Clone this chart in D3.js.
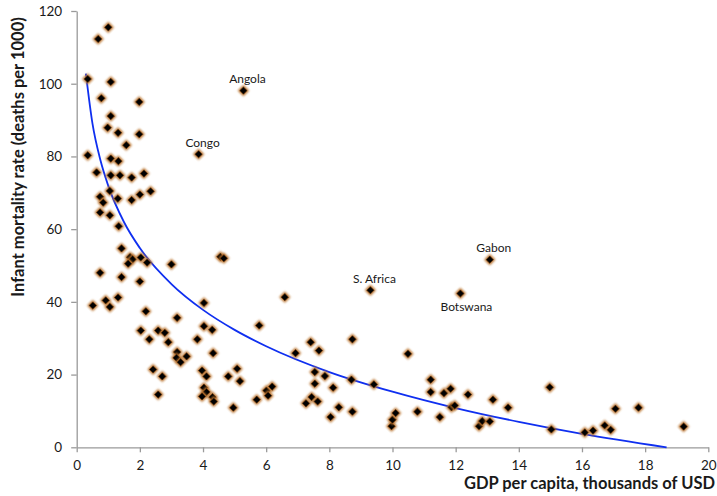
<!DOCTYPE html>
<html>
<head>
<meta charset="utf-8">
<script src="https://cdn.jsdelivr.net/npm/d3@7"></script>
<style>
  html, body { margin: 0; padding: 0; background: #fff; }
  svg { display: block; }
  text { font-family: Lato, "Open Sans", sans-serif; fill: #1a1a1a; }
</style>
</head>
<body>
<svg id="chart" width="717" height="496"></svg>
<script>
// GDP per capita (thousands of USD)
const gdp = [
  1.00, 0.68, 0.35, 1.08, 0.78, 1.98, 1.08, 0.98, 1.31, 1.98, 1.57, 0.35, 5.28, 3.86,
  1.08, 1.32, 0.63, 1.08, 1.37, 1.74, 2.13, 1.05, 0.74, 1.30, 0.84, 1.74, 2.00, 2.34,
  0.74, 1.05, 1.33, 1.42, 1.69, 1.77, 1.63, 2.03, 2.23, 3.00, 4.55, 4.66, 0.74, 1.42,
  2.00, 0.51, 0.92, 1.05, 1.31, 2.19, 4.03,
  3.18, 2.03, 2.30, 2.58, 2.79, 2.90, 3.18, 3.48, 3.16, 3.29, 3.82, 4.03, 4.29, 4.32,
  2.42, 2.71, 2.58, 3.97, 4.11, 4.03, 4.11, 3.97, 4.30, 4.34, 4.80, 5.08, 5.17, 4.96,
  5.78, 5.70,
  6.59, 9.30, 12.15, 13.08, 7.41, 7.67, 6.93, 8.73, 10.49, 7.54, 7.86, 7.54, 8.12, 8.70,
  9.41, 11.21, 11.21, 11.63, 11.84, 12.39, 13.18, 6.01, 6.06, 6.19, 7.26, 7.44, 7.63,
  8.04, 8.30, 8.73, 9.97, 10.00, 10.10, 10.79, 11.50, 11.87, 11.97, 12.74, 12.84, 13.08,
  14.98, 13.66, 15.03, 16.09, 16.35, 16.72, 16.91, 17.06, 17.79, 19.22
];
// Infant mortality rate (deaths per 1000)
const mortality = [
  115.5, 112.3, 101.3, 100.5, 96.0, 95.0, 91.1, 87.9, 86.5, 86.1, 83.1, 80.3, 98.1, 80.6,
  79.4, 78.7, 75.6, 74.8, 74.8, 74.2, 75.3, 70.5, 68.9, 68.4, 67.3, 68.0, 69.5, 70.4,
  64.6, 63.8, 60.8, 54.7, 52.3, 51.7, 50.5, 52.2, 50.8, 50.3, 52.4, 52.0, 48.0, 46.8,
  45.6, 39.0, 40.4, 38.6, 41.2, 37.4, 39.7,
  35.6, 32.1, 29.7, 32.1, 31.5, 28.9, 26.2, 25.0, 24.6, 23.4, 29.7, 33.3, 32.3, 25.9,
  21.4, 19.5, 14.5, 21.1, 19.5, 16.4, 15.2, 14.0, 13.8, 12.6, 19.5, 21.6, 18.2, 10.9,
  33.5, 13.1,
  41.3, 43.2, 42.3, 51.6, 28.9, 26.6, 25.9, 29.7, 25.7, 20.7, 19.6, 17.5, 16.4, 18.6,
  17.3, 18.6, 15.2, 14.9, 16.1, 14.5, 13.1, 15.6, 14.2, 16.7, 12.1, 13.8, 12.6,
  8.3, 11.0, 9.8, 5.8, 7.6, 9.4, 9.8, 8.3, 11.0, 11.5, 5.8, 7.2, 7.1,
  16.5, 10.9, 4.9, 4.1, 4.6, 6.0, 4.8, 10.6, 10.9, 5.7
];
// Labelled countries (index into the arrays above)
const labelNames = ["Angola", "Congo", "S. Africa", "Botswana", "Gabon"];
const labelIndex = [12, 13, 80, 81, 82];

// Trend line
const trendX = [0.29, 0.5, 0.75, 1, 1.5, 2, 3, 4, 5, 6, 8, 10, 12, 14, 16, 18.68];
const trendY = [102.8, 89.0, 79.0, 71.9, 61.9, 54.8, 44.9, 37.8, 32.3, 27.8, 20.7, 15.3, 10.8, 7.0, 3.7, 0.0];

const xTicks = [0, 2, 4, 6, 8, 10, 12, 14, 16, 18, 20];
const yTicks = [0, 20, 40, 60, 80, 100, 120];
const xTitle = "GDP per capita, thousands of USD";
const yTitle = "Infant mortality rate (deaths per 1000)";

const svg = d3.select("#chart");
const x = d3.scaleLinear().domain([0, 20]).range([76.7, 708.3]);
const y = d3.scaleLinear().domain([0, 120]).range([447.3, 11]);

const defs = svg.append("defs");
const f = defs.append("filter").attr("id", "glow")
  .attr("x", "-50%").attr("y", "-50%").attr("width", "200%").attr("height", "200%");
f.append("feGaussianBlur").attr("stdDeviation", 1.1);

const axisColor = "#9a9a9a";

// Axes
const gx = svg.append("g").attr("transform", `translate(0,${y(0)})`)
  .call(d3.axisBottom(x).tickValues(xTicks).tickSize(5).tickSizeOuter(0).tickPadding(8.5));
const gy = svg.append("g").attr("transform", `translate(${x(0)},0)`)
  .call(d3.axisLeft(y).tickValues(yTicks).tickSize(5.5).tickSizeOuter(0).tickPadding(9));
[gx, gy].forEach(g => {
  g.select(".domain").attr("stroke", axisColor).attr("stroke-width", 1.3);
  g.selectAll(".tick line").attr("stroke", axisColor).attr("stroke-width", 1.3);
  g.selectAll(".tick text").attr("font-size", 13.5).attr("font-family", "Lato, sans-serif").attr("fill", "#1a1a1a");
});

// Trend line
const pts = trendX.map((v, i) => [v, trendY[i]]);
svg.append("path")
  .datum(pts)
  .attr("fill", "none")
  .attr("stroke", "#0f2ff0")
  .attr("stroke-width", 1.8)
  .attr("d", d3.line().x(d => x(d[0])).y(d => y(d[1])).curve(d3.curveMonotoneX));

// Markers
const data = gdp.map((v, i) => ({ gx: v, my: mortality[i] }));
const outer = d3.symbol().type(d3.symbolSquare).size(64);
const inner = d3.symbol().type(d3.symbolSquare).size(26);
const mk = svg.append("g");
const m = mk.selectAll("g").data(data).join("g")
  .attr("transform", d => `translate(${x(d.gx)},${y(d.my)}) rotate(45)`);
m.append("path").attr("d", outer).attr("fill", "#b8702c").attr("filter", "url(#glow)");
m.append("path").attr("d", inner).attr("fill", "#000").attr("stroke", "#5a300c").attr("stroke-width", 0.6);

// Country labels
const below = { "Botswana": true };
labelNames.forEach((name, k) => {
  const d = data[labelIndex[k]];
  svg.append("text")
    .attr("x", x(d.gx) + (below[name] ? 6 : 4))
    .attr("y", below[name] ? y(d.my) + 17 : y(d.my) - 7.5)
    .attr("text-anchor", "middle")
    .attr("font-size", 12)
    .text(name);
});

// Axis titles
svg.append("text")
  .attr("x", 715).attr("y", 489)
  .attr("text-anchor", "end")
  .attr("font-size", 16.5).attr("font-weight", "bold")
  .text(xTitle);
svg.append("text")
  .attr("transform", "translate(24,157) rotate(-90)")
  .attr("text-anchor", "middle")
  .attr("font-size", 16.5).attr("font-weight", "bold")
  .text(yTitle);
</script>
</body>
</html>
